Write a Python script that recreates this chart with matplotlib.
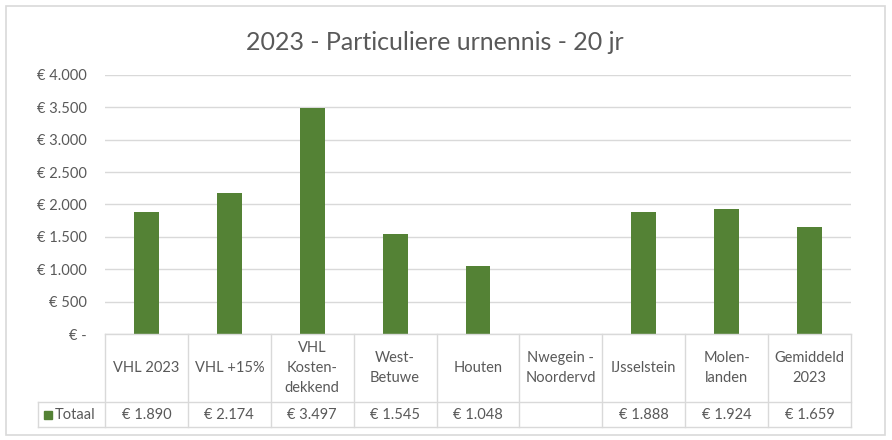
import matplotlib
matplotlib.use("Agg")
import matplotlib.pyplot as plt
from matplotlib.patches import Rectangle
import numpy as np

categories = ["VHL 2023", "VHL +15%", "VHL\nKosten-\ndekkend", "West-\nBetuwe", "Houten",
              "Nwegein -\nNoordervd", "IJsselstein", "Molen-\nlanden", "Gemiddeld\n2023"]
totaal = [1890, 2174, 3497, 1545, 1048, None, 1888, 1924, 1659]
yticks = [0, 500, 1000, 1500, 2000, 2500, 3000, 3500, 4000]
series_name = "Totaal"
title = "2023 - Particuliere urnennis - 20 jr"

GREEN = "#548235"
GRID = "#D9D9D9"
TXT = "#595959"
plt.rcParams['font.family'] = ['Lato', 'DejaVu Sans']

W, H = 892, 440
fig = plt.figure(figsize=(W / 100, H / 100), dpi=100)

def rect(x0, y0, x1, y1):
    return [x0 / W, 1 - y1 / H, (x1 - x0) / W, (y1 - y0) / H]

# outer border
fig.patches.append(Rectangle((6 / W, 1 - 435 / H), (885 - 6) / W, (435 - 6) / H,
                             transform=fig.transFigure, fill=False, edgecolor=GRID, lw=1.2))

fig.text(435 / W, 1 - 42 / H, title, ha="center", va="center", fontsize=18, color=TXT)

def euro(v):
    if v == 0:
        return "€ -"
    return "€ " + f"{v:,.0f}".replace(",", ".")

# main plot
ax = fig.add_axes(rect(105, 75, 851, 334))
x = np.arange(len(categories))
vals = np.array([np.nan if v is None else v for v in totaal], dtype=float)
ax.bar(x, vals, width=0.3, color=GREEN, zorder=3)
ax.set_xlim(-0.5, len(categories) - 0.5)
ax.set_ylim(0, 4000)
ax.set_yticks(yticks)
ax.set_yticklabels([euro(v) for v in yticks], fontsize=10.5, color=TXT)
ax.tick_params(axis="y", length=0, pad=13)
ax.set_xticks([])
ax.grid(axis="y", color=GRID, lw=1, zorder=0)
for s in ax.spines.values():
    s.set_visible(False)

# data table
tax = fig.add_axes(rect(105, 334, 851, 427))
tax.set_xlim(-0.5, len(categories) - 0.5)
tax.set_ylim(93, 0)
tax.axis("off")
unit = (851 - 105) / len(categories)
xleft = -0.5 - (105 - 38) / unit
n = len(categories)
kw = dict(color=GRID, lw=1, clip_on=False)
tax.plot([-0.5, n - 0.5], [0, 0], **kw)
tax.plot([xleft, n - 0.5], [68, 68], **kw)
tax.plot([xleft, n - 0.5], [93, 93], **kw)
tax.plot([xleft, xleft], [68, 93], **kw)
for b in np.arange(n + 1) - 0.5:
    tax.plot([b, b], [0, 93], **kw)
for i, (c, v) in enumerate(zip(categories, totaal)):
    tax.text(i, 34, c, ha="center", va="center", fontsize=10.5, color=TXT,
             linespacing=1.55, clip_on=False)
    if v is not None:
        tax.text(i, 81, euro(v), ha="center", va="center", fontsize=10.5, color=TXT, clip_on=False)
# legend key cell
sq = (52 - 44) / unit
tax.add_patch(Rectangle((xleft + (44 - 38) / unit, 77), sq, 8, color=GREEN, clip_on=False))
tax.text(xleft + (55 - 38) / unit, 81, series_name, ha="left", va="center",
         fontsize=10.5, color=TXT, clip_on=False)

fig.savefig("out.png", dpi=100)
